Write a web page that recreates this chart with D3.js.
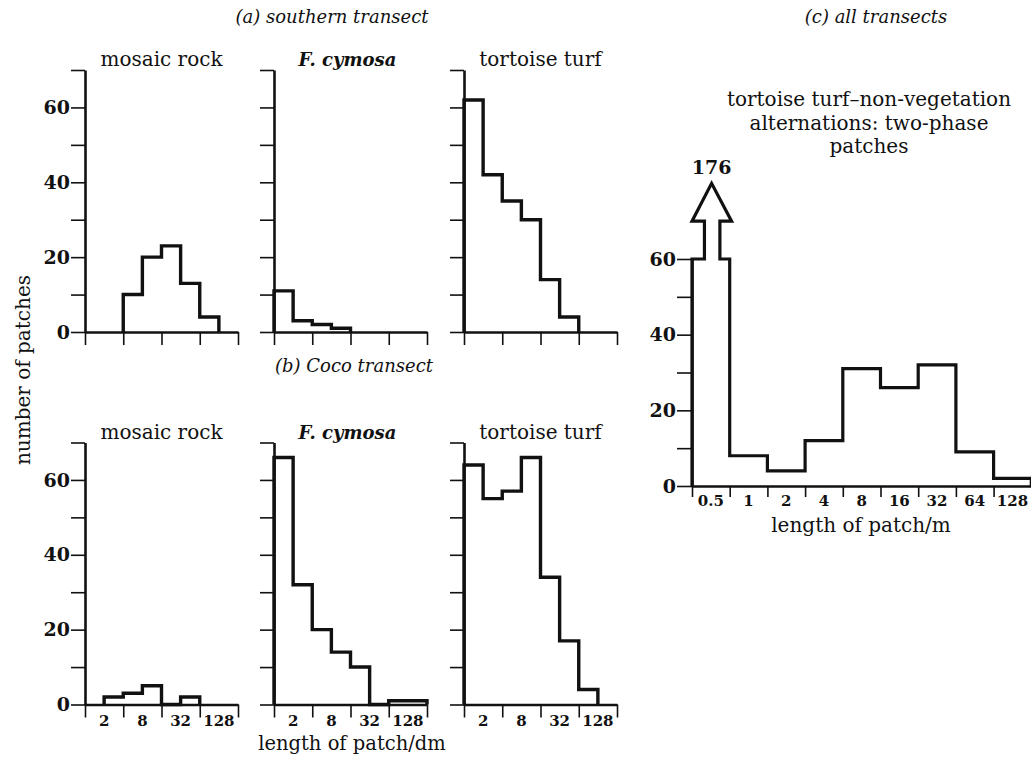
<!DOCTYPE html>
<html>
<head>
<meta charset="utf-8">
<script src="https://cdn.jsdelivr.net/npm/d3@7"></script>
<style>
  body { margin: 0; background: #fff; }
</style>
</head>
<body>
<svg id="chart" width="1031" height="757"></svg>
<script>
// Counts per length class (two bins per labelled octave)
var southern_mosaic = [0, 0, 10, 20, 23, 13, 4, 0]
var southern_cymosa = [11, 3, 2, 1, 0, 0, 0, 0]
var southern_turf = [62, 42, 35, 30, 14, 4, 0, 0]
var coco_mosaic = [0, 2, 3, 5, 0, 2, 0, 0]
var coco_cymosa = [66, 32, 20, 14, 10, 0, 1, 1]
var coco_turf = [64, 55, 57, 66, 34, 17, 4, 0]
var dm_labels = ['2', '8', '32', '128']

// (c) all transects, one bin per octave
var all_labels = ['0.5', '1', '2', '4', '8', '16', '32', '64', '128']
var all_counts = [176, 8, 4, 12, 31, 26, 32, 9, 2]
var all_cap = 60

var svg = d3.select('#chart')
var ink = '#111'
var serif = "'DejaVu Serif', 'Liberation Serif', serif"

var panel_w = 153
var panel_h = 262
var row_base = [332, 704.5]
var col_x = [85, 274, 464]

var panels = [
  {row: 0, col: 0, title: 'mosaic rock', italic: false, data: southern_mosaic},
  {row: 0, col: 1, title: 'F. cymosa', italic: true, data: southern_cymosa},
  {row: 0, col: 2, title: 'tortoise turf', italic: false, data: southern_turf},
  {row: 1, col: 0, title: 'mosaic rock', italic: false, data: coco_mosaic},
  {row: 1, col: 1, title: 'F. cymosa', italic: true, data: coco_cymosa},
  {row: 1, col: 2, title: 'tortoise turf', italic: false, data: coco_turf}
]

var line = d3.line()

function add_text(parent, x, y, str, size, opts) {
  opts = opts || {}
  return parent.append('text')
    .attr('x', x).attr('y', y)
    .attr('text-anchor', opts.anchor || 'middle')
    .attr('fill', ink)
    .style('font-family', serif)
    .style('font-size', size + 'px')
    .style('font-style', opts.italic ? 'italic' : 'normal')
    .style('font-weight', opts.bold ? 'bold' : 'normal')
    .text(str)
}

function step_points(counts, x, y) {
  var nz = counts.map((v, i) => v > 0 ? i : -1).filter(i => i >= 0)
  var i0 = d3.min(nz), i1 = d3.max(nz)
  var pts = [[x(i0), y(0)]]
  for (var i = i0; i <= i1; i++) {
    pts.push([x(i), y(counts[i])])
    pts.push([x(i + 1), y(counts[i])])
  }
  pts.push([x(i1 + 1), y(0)])
  return pts
}

function style_axis(g) {
  g.select('.domain').attr('stroke', ink).attr('stroke-width', 2.6)
  g.selectAll('.tick line').attr('stroke', ink).attr('stroke-width', 1.6)
  g.selectAll('.tick text')
    .attr('fill', ink)
    .style('font-family', serif)
    .style('font-weight', 'bold')
}

panels.forEach(p => {
  var x0 = col_x[p.col]
  var base = row_base[p.row]
  var x = d3.scaleLinear().domain([0, 8]).range([x0, x0 + panel_w])
  var y = d3.scaleLinear().domain([0, 70]).range([base, base - panel_h])
  var g = svg.append('g')

  // y axis
  var ya = g.append('g')
    .attr('transform', 'translate(' + x0 + ',0)')
    .call(d3.axisLeft(y)
      .tickValues(d3.range(0, 71, 10))
      .tickSize(14).tickSizeOuter(0).tickPadding(1)
      .tickFormat(d => (p.col == 0 && d % 20 == 0 && d < 70) ? d : ''))
  style_axis(ya)
  ya.selectAll('.tick text').style('font-size', '19px')

  // x axis
  var xa = g.append('g')
    .attr('transform', 'translate(0,' + base + ')')
    .call(d3.axisBottom(x)
      .tickValues([0, 2, 4, 6, 8])
      .tickSize(13).tickSizeOuter(0)
      .tickFormat(''))
  style_axis(xa)

  if (p.row == 1) {
    dm_labels.forEach((d, i) => {
      add_text(g, x(2 * i + 1), base + 21, d, 15, {bold: true})
    })
  }

  // histogram outline
  g.append('path')
    .attr('d', line(step_points(p.data, x, y)))
    .attr('fill', 'none')
    .attr('stroke', ink)
    .attr('stroke-width', 3.4)
    .attr('stroke-linejoin', 'miter')

  add_text(g, x(4) - (p.italic ? 3 : 0), base - panel_h - 4, p.title,
    p.italic ? 18 : 20, {italic: p.italic, bold: p.italic})
})

// section headings
add_text(svg, 332, 23, '(a)  southern transect', 18, {italic: true})
add_text(svg, 354, 372, '(b)  Coco transect', 18, {italic: true})
add_text(svg, 876, 23, '(c)  all transects', 18, {italic: true})

add_text(svg, 0, 0, 'number of patches', 20)
  .attr('transform', 'translate(30,370) rotate(-90)')

add_text(svg, 352, 750, 'length of patch/dm', 19.5)

// (c) panel
var cx0 = 692
var cx = d3.scaleLinear().domain([0, 9]).range([cx0, cx0 + 9 * 37.7])
var cy = d3.scaleLinear().domain([0, 60]).range([486, 259])
var gc = svg.append('g')

var cya = gc.append('g')
  .attr('transform', 'translate(' + cx0 + ',0)')
  .call(d3.axisLeft(cy)
    .tickValues(d3.range(0, 61, 10))
    .tickSize(15).tickSizeOuter(0).tickPadding(1)
    .tickFormat(d => d % 20 == 0 ? d : ''))
style_axis(cya)
cya.selectAll('.tick text').style('font-size', '19px')

var cxa = gc.append('g')
  .attr('transform', 'translate(0,' + cy(0) + ')')
  .call(d3.axisBottom(cx)
    .tickValues(d3.range(0, 10))
    .tickSize(11).tickSizeOuter(0)
    .tickFormat(''))
style_axis(cxa)

all_labels.forEach((d, i) => {
  add_text(gc, cx(i + 0.5), cy(0) + 20, d, 15, {bold: true})
})

// outline with the off-scale first bin drawn as an arrow
var capped = all_counts.map(v => Math.min(v, all_cap))
var cpts = step_points(capped, cx, cy)
var arrow = [
  [cx(0.33), cy(all_cap)], [cx(0.33), cy(70)], [cx(0), cy(70)],
  [cx(0.52), cy(80)],
  [cx(1.05), cy(70)], [cx(0.74), cy(70)], [cx(0.74), cy(all_cap)]
]
cpts.splice(2, 0, ...arrow)
gc.append('path')
  .attr('d', line(cpts))
  .attr('fill', 'none')
  .attr('stroke', ink)
  .attr('stroke-width', 3.2)
  .attr('stroke-linejoin', 'miter')

add_text(gc, cx(0.52), cy(80) - 9, all_counts[0], 19, {bold: true})

var ctitle = ['tortoise turf\u2013non-vegetation', 'alternations: two-phase', 'patches']
ctitle.forEach((d, i) => {
  add_text(gc, 869, 106 + i * 23.5, d, 20)
})

add_text(gc, 861, 532, 'length of patch/m', 20)
</script>
</body>
</html>
